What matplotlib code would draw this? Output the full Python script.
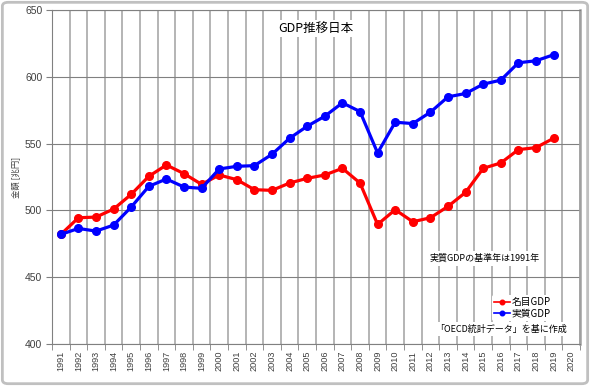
import numpy as np
import matplotlib.pyplot as plt
from matplotlib.patches import FancyBboxPatch

plt.rcParams['font.family'] = ['Noto Sans CJK JP', 'DejaVu Sans']

years = [str(y) for y in range(1991, 2021)]
# 名目GDP (nominal), 兆円
nominal = [482, 494.5, 495, 501, 512, 525.5, 534, 527.5, 519.5, 526.5,
           523, 515.5, 515, 520.5, 524, 526.5, 531.5, 520.5, 489.5, 500.5,
           491.5, 494.5, 503, 513.5, 531.5, 535.5, 545.5, 547, 554]
# 実質GDP (real, base year 1991), 兆円
real = [482, 486.5, 484.5, 489, 502.5, 518, 523.5, 517.5, 516.5, 531,
        533, 533.5, 542, 554, 563, 570.5, 580.5, 574, 543, 566,
        565, 573.5, 585, 587.5, 594.5, 597.5, 610.5, 612, 616.5]
yticks = [400, 450, 500, 550, 600, 650]

fig = plt.figure(figsize=(5.9, 3.86), dpi=100)
ax = fig.add_axes([52/590, 1-344/386, 528/590, 334/386])

x = np.arange(len(nominal))
ax.plot(x, nominal, color='#ff0000', lw=2.3, marker='o', ms=5.5, label='名目GDP', zorder=3)
ax.plot(x, real, color='#0000ff', lw=2.3, marker='o', ms=5.5, label='実質GDP', zorder=3)

ax.set_xlim(-0.5, len(years) - 0.5)
ax.set_ylim(400, 650)
ax.set_yticks(yticks)
ax.set_xticks(np.arange(len(years)))
ax.set_xticklabels(years, rotation=90, fontsize=6.6, color='#404040', family='Liberation Sans')
ax.set_xticks(np.arange(len(years) + 1) - 0.5, minor=True)
ax.tick_params(axis='x', which='major', length=0, pad=5)
ax.tick_params(axis='x', which='minor', length=4, color='#808080')
ax.tick_params(axis='y', length=4, color='#808080', labelsize=7.5, labelcolor='#404040', pad=3)
for lab in ax.get_yticklabels():
    lab.set_family('Liberation Sans')

ax.grid(axis='y', color='#808080', lw=0.8)
ax.grid(axis='x', which='minor', color='#a8a8a8', lw=1.2)
ax.set_axisbelow(True)
for s in ['left', 'bottom', 'top']:
    ax.spines[s].set_color('#808080')
    ax.spines[s].set_linewidth(0.8)
ax.spines['right'].set_color('#a0a0a0')
ax.spines['right'].set_linewidth(1.8)

fig.text(0.027, 0.541, '金額 [兆円]', rotation=90, fontsize=6, ha='center', va='center', color='#404040')

ax.text(0.5, 0.945, 'GDP推移日本', transform=ax.transAxes, ha='center', va='center',
        fontsize=9, bbox=dict(facecolor='white', edgecolor='none', pad=1.5))
ax.text(0.82, 0.257, '実質GDPの基準年は1991年', transform=ax.transAxes, ha='center', va='center',
        fontsize=6.5, bbox=dict(facecolor='white', edgecolor='none', pad=2))
ax.text(0.85, 0.045, '「OECD統計データ」を基に作成', transform=ax.transAxes, ha='center', va='center',
        fontsize=6.5, bbox=dict(facecolor='white', edgecolor='none', pad=2))

leg = ax.legend(loc='center left', bbox_to_anchor=((492-52)/528, 0.108), fontsize=7,
                handlelength=1.6, handletextpad=0.2, labelspacing=0.2, markerscale=0.6,
                frameon=True, facecolor='white', edgecolor='none', framealpha=1,
                borderpad=0.2, borderaxespad=0)
for h in leg.get_lines():
    h.set_linewidth(1.2)

border = FancyBboxPatch((0.004, 0.006), 0.992, 0.988, boxstyle='round,pad=0,rounding_size=0.01',
                        transform=fig.transFigure, facecolor='none', edgecolor='#c0c0c0', lw=2)
fig.patches.append(border)

fig.savefig('out.png', dpi=100)
